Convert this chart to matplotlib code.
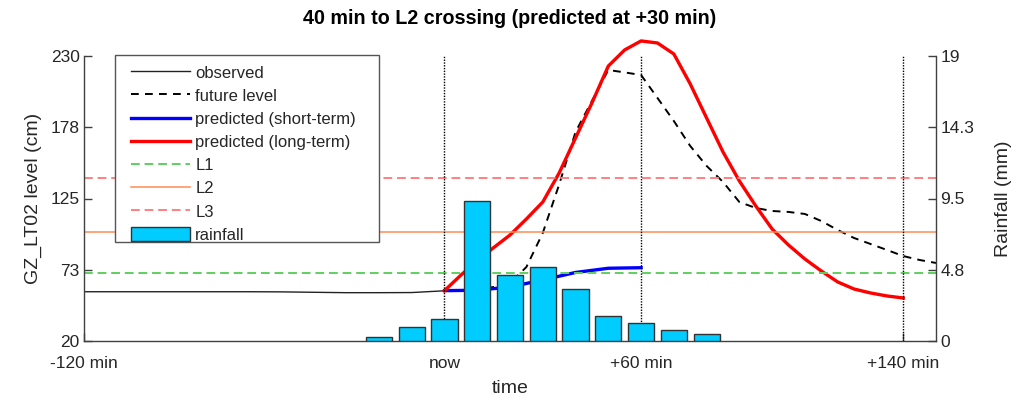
import numpy as np
import matplotlib
matplotlib.use("Agg")
import matplotlib.pyplot as plt
from matplotlib.patches import Rectangle

plt.rcParams['font.family'] = ['Liberation Sans', 'DejaVu Sans']

# ---------------- data ----------------
title = "40 min to L2 crossing (predicted at +30 min)"
xtick_pos = [-110, 0, 60, 140]
xtick_labels = ["-120 min", "now", "+60 min", "+140 min"]
left_ticklabels = ["20", "73", "125", "178", "230"]
right_ticklabels = ["0", "4.8", "9.5", "14.3", "19"]

obs_t = [-110, -100, -90, -80, -70, -60, -50, -40, -30, -20, -10, 0]
obs_v = [56.3, 56.3, 56.3, 56.3, 56.3, 56.3, 56.2, 55.9, 55.6, 55.6, 55.7, 57.0]

future_t = [0, 5, 10, 15, 20, 25, 30, 35, 40, 45, 50, 55, 60, 65, 70, 75, 80, 85, 90,
            95, 100, 105, 110, 115, 120, 125, 130, 135, 140, 145, 150]
future_v = [57.1, 57.2, 58.0, 59.8, 62.7, 74.5, 99.6, 135.3, 174.0, 196.9, 219.7, 217.9,
            216.0, 199.1, 182.1, 163.7, 149.0, 137.2, 122.4, 118.0, 115.8, 115.1, 113.6,
            108.4, 101.8, 95.9, 91.5, 87.1, 82.6, 79.7, 77.5]

short_t = [0, 10, 20, 30, 40, 50, 60]
short_v = [57.1, 57.4, 59.8, 65.0, 70.5, 73.6, 74.0]

long_t = [0, 5, 10, 15, 20, 25, 30, 35, 40, 45, 50, 55, 60, 65, 70, 75, 80, 85, 90, 95,
          100, 105, 110, 115, 120, 125, 130, 135, 140]
long_v = [57.1, 68.5, 79.1, 88.8, 98.1, 109.9, 122.4, 143.8, 169.6, 195.4, 222.6, 234.5,
          241.1, 239.6, 231.5, 209.4, 184.3, 159.3, 137.9, 119.5, 102.5, 90.7, 80.4, 71.6,
          63.5, 58.3, 55.4, 53.2, 51.7]

L1, L2, L3 = 70, 100, 140
marker_t = [0, 60, 140]

rain_t = [-20, -10, 0, 10, 20, 30, 40, 50, 60, 70, 80]
rain_v = [0.25, 0.93, 1.45, 9.33, 4.42, 4.93, 3.47, 1.65, 1.22, 0.71, 0.45]

left_lim = (20, 230)
right_lim = (0, 19)
x_lim = (-110, 150)

# ---------------- figure ----------------
W, H = 1024, 401
fig = plt.figure(figsize=(W/100, H/100), dpi=100)
ax1 = fig.add_axes([84/W, 1-341/H, (936-84)/W, (341-56)/H])
ax2 = ax1.twinx()

axcol = '#404040'
txtcol = '#262626'

ax1.plot(obs_t, obs_v, color='#222222', lw=1.0, label='observed')
ax1.plot(future_t, future_v, color='black', lw=1.4, dashes=(4.0, 3.2), label='future level')
ax1.plot(short_t, short_v, color='#0000ff', lw=2.4, label='predicted (short-term)')
ax1.plot(long_t, long_v, color='#ff0000', lw=2.4, label='predicted (long-term)', clip_on=False)
ax1.axhline(L1, color='#5fcf5f', lw=1.4, dashes=(4.5, 2.5), label='L1')
ax1.axhline(L2, color='#ff8c55', lw=1.1, label='L2')
ax1.axhline(L3, color='#ff8080', lw=1.4, dashes=(4.5, 2.5), label='L3')
for t in marker_t:
    ax1.axvline(t, color='black', lw=1.0, ls=(0, (1, 1)))

ax1.set_xlim(*x_lim)
ax1.set_ylim(*left_lim)
ax1.set_yticks(np.linspace(left_lim[0], left_lim[1], 5))
ax1.set_yticklabels(left_ticklabels)
ax1.set_xticks(xtick_pos)
ax1.set_xticklabels(xtick_labels)
ax1.set_ylabel("GZ_LT02 level (cm)", fontsize=14, color=txtcol, labelpad=6)
ax1.set_xlabel("time", fontsize=14, color=txtcol, labelpad=6)

ax2.bar(rain_t, rain_v, width=8, color='#00ccff', edgecolor='#333333', lw=1.0, label='rainfall')
ax2.set_ylim(*right_lim)
ax2.set_yticks(np.linspace(right_lim[0], right_lim[1], 5))
ax2.set_yticklabels(right_ticklabels)
ax2.set_ylabel("Rainfall (mm)", fontsize=14, color=txtcol, labelpad=15)

for ax in (ax1, ax2):
    ax.spines['top'].set_visible(False)
    for s in ax.spines.values():
        s.set_color(axcol)
        s.set_linewidth(1.0)
    ax.tick_params(direction='in', length=6, width=1.0, colors=axcol, labelcolor=txtcol,
                   labelsize=12.5)
    ax.tick_params(axis='y', pad=3)
ax1.tick_params(axis='x', pad=11)
ax1.spines['right'].set_visible(False)
ax2.spines['left'].set_visible(False)
ax2.spines['bottom'].set_visible(False)

ax1.set_title(title, fontsize=14.2, fontweight='bold', color='black', pad=23)

# legend frame (drawn as a box) and legend entries
box = Rectangle((115/W, 1-242/H), 264/W, 187/H, transform=fig.transFigure,
                facecolor='white', edgecolor='#555555', lw=1.0, zorder=4.5, clip_on=False)
ax2.add_patch(box)

h1, l1 = ax1.get_legend_handles_labels()
h2, l2 = ax2.get_legend_handles_labels()
leg = ax2.legend(h1 + h2, l1 + l2, loc='upper left',
                 bbox_to_anchor=(131/W, 1-65/H), bbox_transform=fig.transFigure,
                 borderaxespad=0, frameon=False,
                 fontsize=12, handlelength=3.55, handletextpad=0.3, labelspacing=0.45,
                 borderpad=0.0, handleheight=0.9)
leg.set_zorder(5)
for t in leg.get_texts():
    t.set_color(txtcol)

fig.savefig("out.png", dpi=100)
